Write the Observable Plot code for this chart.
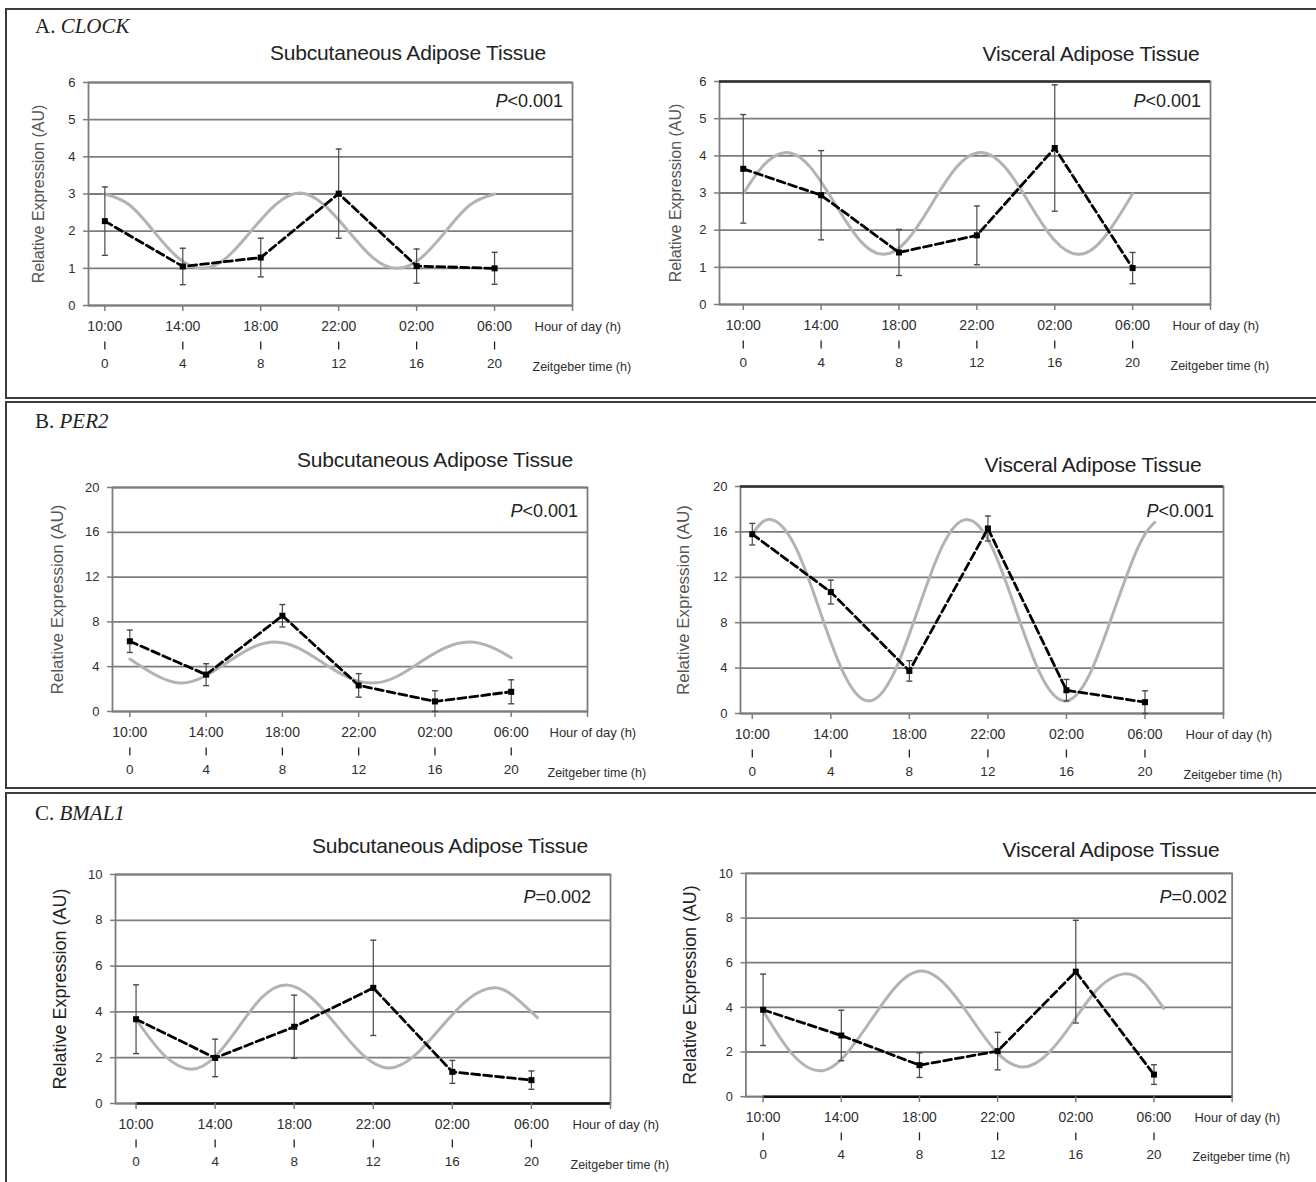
<!DOCTYPE html>
<html>
<head>
<meta charset="utf-8">
<script src="https://cdn.jsdelivr.net/npm/d3@7"></script>
<script src="https://cdn.jsdelivr.net/npm/@observablehq/plot@0.6"></script>
<style>
  html, body { margin: 0; padding: 0; background: #fff; }
  #root { position: relative; width: 1316px; height: 1182px; overflow: hidden; background: #fff; font-family: "Liberation Sans", Arial, sans-serif; }
  .box { position: absolute; border: 2px solid #3c3c3c; box-sizing: border-box; }
  .sec { position: absolute; font-family: "Liberation Serif", "Times New Roman", serif; font-size: 21px; color: #222; transform: translateY(-50%); white-space: nowrap; }
  .ttl { position: absolute; font-size: 21px; color: #222; transform: translate(-50%, -50%); white-space: nowrap; letter-spacing: -0.2px; }
  .pv { position: absolute; font-size: 18px; color: #222; transform: translate(-100%, -50%); white-space: nowrap; }
  .pnl { position: absolute; }
</style>
</head>
<body>
<div id="root"></div>
<script>
// ---------------- data ----------------
const hourLabels = ["10:00", "14:00", "18:00", "22:00", "02:00", "06:00"];
const ztHours = [0, 4, 8, 12, 16, 20];
const hourAxisTitle = "Hour of day (h)";
const ztAxisTitle = "Zeitgeber time (h)";
const yAxisTitle = "Relative Expression (AU)";

// A. CLOCK
const clockSubMean = [2.27, 1.05, 1.29, 3.01, 1.06, 1.00];
const clockSubErr  = [0.92, 0.49, 0.52, 1.20, 0.46, 0.43];
const clockSubFitT = [0, 1.25, 2.5, 3.75, 5, 6.25, 7.5, 8.75, 10, 11.25, 12.5, 13.75, 15, 16.25, 17.5, 18.75, 20];
const clockSubFitV = [3.0, 2.71, 2.0, 1.29, 1.0, 1.29, 2.0, 2.71, 3.03, 2.71, 2.0, 1.29, 1.0, 1.29, 2.0, 2.71, 3.0];

const clockVisMean = [3.65, 2.94, 1.40, 1.86, 4.21, 0.98];
const clockVisErr  = [1.46, 1.20, 0.62, 0.79, 1.70, 0.42];
const clockVisFitT = [0, 1.0, 2.2, 3.45, 4.7, 5.95, 7.2, 8.45, 9.7, 10.95, 12.2, 13.45, 14.7, 15.95, 17.2, 18.45, 19.7, 20];
const clockVisFitV = [2.98, 3.72, 4.09, 3.69, 2.72, 1.75, 1.35, 1.75, 2.72, 3.69, 4.09, 3.69, 2.72, 1.75, 1.35, 1.75, 2.72, 2.98];

// B. PER2
const per2SubMean = [6.27, 3.29, 8.55, 2.33, 0.90, 1.76];
const per2SubErr  = [1.00, 0.98, 1.00, 1.05, 0.95, 1.07];
const per2SubFitT = [0, 1.3, 2.6, 3.85, 5.1, 6.35, 7.6, 8.85, 10.1, 11.4, 12.7, 13.95, 15.2, 16.5, 17.8, 19.0, 20];
const per2SubFitV = [4.69, 3.30, 2.54, 3.08, 4.37, 5.66, 6.21, 5.66, 4.37, 3.08, 2.54, 3.08, 4.37, 5.66, 6.21, 5.72, 4.8];

const per2VisMean = [15.8, 10.7, 3.75, 16.3, 2.05, 1.0];
const per2VisErr  = [0.95, 1.05, 0.90, 1.10, 0.95, 1.0];
const per2VisFitT = [0, 0.93, 2.18, 3.43, 4.68, 5.93, 7.18, 8.43, 9.68, 10.93, 12.18, 13.43, 14.68, 15.93, 17.18, 18.43, 19.68, 20.5];
const per2VisFitV = [15.8, 17.1, 14.75, 9.1, 3.44, 1.1, 3.44, 9.1, 14.75, 17.1, 14.75, 9.1, 3.44, 1.1, 3.44, 9.1, 14.75, 16.85];

// C. BMAL1
const bmalSubMean = [3.68, 1.99, 3.35, 5.05, 1.38, 1.02];
const bmalSubErr  = [1.50, 0.82, 1.38, 2.08, 0.50, 0.40];
const bmalSubFitT = [0, 1.4, 2.8, 4.0, 5.2, 6.35, 7.6, 8.9, 10.2, 11.5, 12.8, 14.1, 15.4, 16.8, 18.2, 19.3, 20.3];
const bmalSubFitV = [3.68, 2.13, 1.5, 2.05, 3.35, 4.62, 5.18, 4.6, 3.35, 2.1, 1.55, 2.1, 3.3, 4.55, 5.05, 4.55, 3.75];

const bmalVisMean = [3.89, 2.74, 1.41, 2.04, 5.60, 0.99];
const bmalVisErr  = [1.60, 1.13, 0.55, 0.84, 2.30, 0.44];
const bmalVisFitT = [0, 1.45, 2.9, 4.2, 5.5, 6.8, 8.1, 9.4, 10.7, 12.0, 13.3, 14.6, 15.9, 17.15, 18.45, 19.5, 20.5];
const bmalVisFitV = [3.85, 1.95, 1.16, 1.86, 3.4, 4.94, 5.63, 4.95, 3.45, 1.95, 1.33, 1.95, 3.4, 4.85, 5.5, 5.1, 3.95];

const sectionLabels = [["A. ", "CLOCK"], ["B. ", "PER2"], ["C. ", "BMAL1"]];
const tissueTitles = ["Subcutaneous Adipose Tissue", "Visceral Adipose Tissue"];
const pLabels = ["<0.001", "<0.001", "<0.001", "<0.001", "=0.002", "=0.002"];

// ---------------- layout ----------------
const root = document.getElementById("root");

const boxes = [
  {left: 5, top: 8, width: 1330, height: 391},
  {left: 5, top: 401, width: 1330, height: 388},
  {left: 5, top: 792, width: 1330, height: 400}
];
boxes.forEach(b => {
  const d = document.createElement("div");
  d.className = "box";
  Object.assign(d.style, {left: b.left + "px", top: b.top + "px", width: b.width + "px", height: b.height + "px"});
  root.appendChild(d);
});

const secPos = [26, 421, 813];
sectionLabels.forEach((s, i) => {
  const d = document.createElement("div");
  d.className = "sec";
  d.style.left = "35px";
  d.style.top = secPos[i] + "px";
  d.innerHTML = s[0] + "<i>" + s[1] + "</i>";
  root.appendChild(d);
});

const panels = [
  {mean: clockSubMean, err: clockSubErr, fitT: clockSubFitT, fitV: clockSubFitV, ymax: 6, step: 1,
   xmin: -0.84, plot: [88, 82, 572, 305], title: tissueTitles[0], tpos: [408, 53], ppos: [563, 101], p: pLabels[0],
   ylabDx: -50, ylabSize: 16, ylabColor: "#555"},
  {mean: clockVisMean, err: clockVisErr, fitT: clockVisFitT, fitV: clockVisFitV, ymax: 6, step: 1,
   xmin: -1.22, plot: [719, 81, 1210, 304], title: tissueTitles[1], tpos: [1091, 54], ppos: [1201, 101], p: pLabels[1],
   ylabDx: -44, ylabSize: 16, ylabColor: "#555", topDark: true},
  {mean: per2SubMean, err: per2SubErr, fitT: per2SubFitT, fitV: per2SubFitV, ymax: 20, step: 4,
   xmin: -0.91, plot: [112, 487, 587, 711], title: tissueTitles[0], tpos: [435, 460], ppos: [578, 511], p: pLabels[2],
   ylabDx: -55, ylabSize: 17, ylabColor: "#555"},
  {mean: per2VisMean, err: per2VisErr, fitT: per2VisFitT, fitV: per2VisFitV, ymax: 20, step: 4,
   xmin: -0.6, plot: [740, 486, 1223, 713], title: tissueTitles[1], tpos: [1093, 465], ppos: [1214, 511], p: pLabels[3],
   ylabDx: -57, ylabSize: 17, ylabColor: "#555", topDark: true},
  {mean: bmalSubMean, err: bmalSubErr, fitT: bmalSubFitT, fitV: bmalSubFitV, ymax: 10, step: 2,
   xmin: -1.04, plot: [115, 874, 610, 1103], title: tissueTitles[0], tpos: [450, 846], ppos: [591, 897], p: pLabels[4],
   ylabDx: -55, ylabSize: 18, ylabColor: "#222", baseBlack: true},
  {mean: bmalVisMean, err: bmalVisErr, fitT: bmalVisFitT, fitV: bmalVisFitV, ymax: 10, step: 2,
   xmin: -0.88, plot: [746, 873, 1236, 1098], title: tissueTitles[1], tpos: [1111, 850], ppos: [1227, 897], p: pLabels[5],
   ylabDx: -56, ylabSize: 18, ylabColor: "#222", baseBlack: true}
];

const hbar = {draw(ctx, size) { const r = Math.sqrt(size / Math.PI); ctx.moveTo(-r, 0); ctx.lineTo(r, 0); }};
const vbar = {draw(ctx, size) { const r = Math.sqrt(size / Math.PI); ctx.moveTo(0, -r); ctx.lineTo(0, r); }};
const gridColor = "#7d7d7d";
const textColor = "#2e2e2e";

function drawPanel(cfg) {
  const [pl, pt, pr, pb] = cfg.plot;
  const mL = 75, mR = 85, mT = 12, mB = 75;
  const rows = ztHours.map((t, i) => ({
    t, hour: hourLabels[i], zt: String(t),
    m: cfg.mean[i], lo: Math.max(0, cfg.mean[i] - cfg.err[i]), hi: cfg.mean[i] + cfg.err[i]
  }));
  const fit = cfg.fitT.map((t, i) => ({t, v: cfg.fitV[i]}));
  const yTicks = d3.range(0, cfg.ymax + 1e-9, cfg.step);
  const xEnd = 24;

  const marks = [
    Plot.ruleY(yTicks, {stroke: gridColor, strokeWidth: 1.8}),
    Plot.frame({stroke: gridColor, strokeWidth: 1.8}),
  ];
  if (cfg.topDark) marks.push(Plot.ruleY([cfg.ymax], {stroke: "#333", strokeWidth: 2.4}));
  if (cfg.baseBlack) marks.push(Plot.ruleY([0], {x1: ztHours[0], x2: xEnd, stroke: "#111", strokeWidth: 2.6}));
  marks.push(
    Plot.axisY({ticks: yTicks, tickSize: 5, tickPadding: 8, tickFormat: d3.format("d"), label: null, fontSize: 13, color: textColor, stroke: gridColor, strokeWidth: 1.5}),
    Plot.axisX({ticks: [...ztHours, xEnd], tickSize: 6, tickFormat: () => "", label: null, stroke: gridColor, strokeWidth: 1.5}),
    Plot.text(rows, {x: "t", text: "hour", frameAnchor: "bottom", dy: 21, lineAnchor: "middle", fontSize: 14, fill: textColor}),
    Plot.dot(rows, {x: "t", frameAnchor: "bottom", dy: 40, symbol: vbar, r: 4, stroke: "#222", strokeWidth: 1.3}),
    Plot.text(rows, {x: "t", text: "zt", frameAnchor: "bottom", dy: 58, lineAnchor: "middle", fontSize: 13.5, fill: textColor}),
    Plot.text([hourAxisTitle], {frameAnchor: "bottom-right", dx: -38, dy: 21, textAnchor: "start", lineAnchor: "middle", fontSize: 13, fill: textColor}),
    Plot.text([ztAxisTitle], {frameAnchor: "bottom-right", dx: -40, dy: 61, textAnchor: "start", lineAnchor: "middle", fontSize: 12.5, fill: textColor}),
    Plot.text([yAxisTitle], {frameAnchor: "left", dx: cfg.ylabDx, rotate: -90, textAnchor: "middle", lineAnchor: "middle", fontSize: cfg.ylabSize, fill: cfg.ylabColor}),
    Plot.line(fit, {x: "t", y: "v", curve: "natural", stroke: "#b3b3b3", strokeWidth: 3}),
    Plot.ruleX(rows, {x: "t", y1: "lo", y2: "hi", stroke: "#4a4a4a", strokeWidth: 1.2}),
    Plot.dot(rows, {x: "t", y: "hi", symbol: hbar, r: 3, stroke: "#4a4a4a", strokeWidth: 1.4}),
    Plot.dot(rows, {x: "t", y: "lo", symbol: hbar, r: 3, stroke: "#4a4a4a", strokeWidth: 1.4}),
    Plot.line(rows, {x: "t", y: "m", stroke: "#000", strokeWidth: 2.8, strokeDasharray: "8,4"}),
    Plot.dot(rows, {x: "t", y: "m", symbol: "square", fill: "#000", r: 3.4})
  );

  const chart = Plot.plot({
    width: pr - pl + mL + mR,
    height: pb - pt + mT + mB,
    marginLeft: mL, marginRight: mR, marginTop: mT, marginBottom: mB,
    x: {domain: [cfg.xmin, xEnd]},
    y: {domain: [0, cfg.ymax]},
    style: {fontFamily: "'Liberation Sans', Arial, sans-serif", background: "transparent", overflow: "visible"},
    marks
  });
  const wrap = document.createElement("div");
  wrap.className = "pnl";
  wrap.style.left = (pl - mL) + "px";
  wrap.style.top = (pt - mT) + "px";
  wrap.appendChild(chart);
  root.appendChild(wrap);

  const t = document.createElement("div");
  t.className = "ttl";
  t.style.left = cfg.tpos[0] + "px";
  t.style.top = cfg.tpos[1] + "px";
  t.textContent = cfg.title;
  root.appendChild(t);

  const p = document.createElement("div");
  p.className = "pv";
  p.style.left = cfg.ppos[0] + "px";
  p.style.top = cfg.ppos[1] + "px";
  p.innerHTML = "<i>P</i>" + cfg.p.replace("<", "&lt;");
  root.appendChild(p);
}

panels.forEach(drawPanel);
</script>
</body>
</html>
